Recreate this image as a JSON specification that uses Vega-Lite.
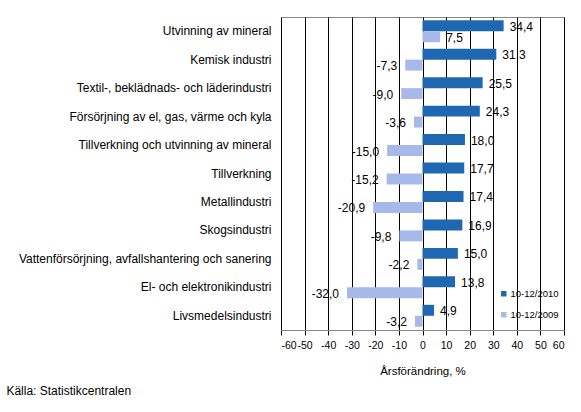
{
  "$schema": "https://vega.github.io/schema/vega-lite/v6.json",
  "width": 283,
  "height": 313,
  "autosize": {"type": "none"},
  "padding": {"left": 281, "top": 17, "right": 17, "bottom": 82},
  "background": "white",
  "config": {
    "font": "Liberation Sans",
    "locale": {"number": {"decimal": ",", "thousands": " ", "grouping": [3], "currency": ["", " €"], "minus": "-"}},
    "view": {"stroke": "#888888", "strokeWidth": 1}
  },
  "title": {
    "text": "Källa: Statistikcentralen",
    "orient": "bottom",
    "anchor": "start",
    "frame": "bounds",
    "fontSize": 12,
    "fontWeight": "normal",
    "color": "#000",
    "offset": 9,
    "dx": -12
  },
  "data": {
    "values": [
      {"cat": "Utvinning av mineral", "series": "10-12/2010", "value": 34.4},
      {"cat": "Utvinning av mineral", "series": "10-12/2009", "value": 7.5},
      {"cat": "Kemisk industri", "series": "10-12/2010", "value": 31.3},
      {"cat": "Kemisk industri", "series": "10-12/2009", "value": -7.3},
      {"cat": "Textil-, beklädnads- och läderindustri", "series": "10-12/2010", "value": 25.5},
      {"cat": "Textil-, beklädnads- och läderindustri", "series": "10-12/2009", "value": -9.0},
      {"cat": "Försörjning av el, gas, värme och kyla", "series": "10-12/2010", "value": 24.3},
      {"cat": "Försörjning av el, gas, värme och kyla", "series": "10-12/2009", "value": -3.6},
      {"cat": "Tillverkning och utvinning av mineral", "series": "10-12/2010", "value": 18.0},
      {"cat": "Tillverkning och utvinning av mineral", "series": "10-12/2009", "value": -15.0},
      {"cat": "Tillverkning", "series": "10-12/2010", "value": 17.7},
      {"cat": "Tillverkning", "series": "10-12/2009", "value": -15.2},
      {"cat": "Metallindustri", "series": "10-12/2010", "value": 17.4},
      {"cat": "Metallindustri", "series": "10-12/2009", "value": -20.9},
      {"cat": "Skogsindustri", "series": "10-12/2010", "value": 16.9},
      {"cat": "Skogsindustri", "series": "10-12/2009", "value": -9.8},
      {"cat": "Vattenförsörjning, avfallshantering och sanering", "series": "10-12/2010", "value": 15.0},
      {"cat": "Vattenförsörjning, avfallshantering och sanering", "series": "10-12/2009", "value": -2.2},
      {"cat": "El- och elektronikindustri", "series": "10-12/2010", "value": 13.8},
      {"cat": "El- och elektronikindustri", "series": "10-12/2009", "value": -32.0},
      {"cat": "Livsmedelsindustri", "series": "10-12/2010", "value": 4.9},
      {"cat": "Livsmedelsindustri", "series": "10-12/2009", "value": -3.2}
    ]
  },
  "encoding": {
    "y": {
      "field": "cat",
      "type": "nominal",
      "sort": null,
      "scale": {"paddingInner": 0.23, "paddingOuter": 0.115},
      "axis": {
        "title": null,
        "labelFont": "Liberation Sans",
        "labelFontSize": 12,
        "labelColor": "#000",
        "labelPadding": 10,
        "ticks": false,
        "domain": false,
        "labelLimit": 300
      }
    },
    "yOffset": {
      "field": "series",
      "type": "nominal",
      "sort": ["10-12/2010", "10-12/2009"],
      "scale": {"paddingInner": 0, "paddingOuter": 0}
    },
    "x": {
      "field": "value",
      "type": "quantitative",
      "scale": {"domain": [-60, 60], "nice": false},
      "axis": {
        "values": [-60, -50, -40, -30, -20, -10, 0, 10, 20, 30, 40, 50, 60],
        "title": "Årsförändring, %",
        "titleFont": "Liberation Sans",
        "titleFontSize": 11.5,
        "titleFontWeight": "normal",
        "titleColor": "#000",
        "titlePadding": 15,
        "labelFont": "Liberation Sans",
        "labelFontSize": 10.5,
        "labelOverlap": false,
        "labelColor": "#000",
        "labelPadding": 5,
        "tickColor": "#000",
        "tickSize": 5,
        "domainColor": "#888888",
        "grid": true,
        "gridColor": "#000",
        "gridOpacity": 1,
        "gridWidth": 1,
        "format": "d"
      }
    }
  },
  "layer": [
    {
      "mark": {"type": "bar"},
      "encoding": {
        "color": {
          "field": "series",
          "type": "nominal",
          "scale": {"domain": ["10-12/2010", "10-12/2009"], "range": ["#1f68b1", "#a6b9e9"]},
          "legend": {
            "title": null,
            "orient": "none",
            "legendX": 218,
            "legendY": 272,
            "symbolType": "square",
            "symbolSize": 30,
            "symbolStrokeWidth": 0,
            "labelFont": "Liberation Sans",
            "labelFontSize": 9.5,
            "labelColor": "#000",
            "rowPadding": 10,
            "labelOffset": 2
          }
        }
      }
    },
    {
      "transform": [{"filter": "datum.value >= 0"}],
      "mark": {"type": "text", "align": "left", "baseline": "middle", "dx": 6, "dy": 1, "fontSize": 12, "font": "Liberation Sans", "color": "#000"},
      "encoding": {"text": {"field": "value", "type": "quantitative", "format": ".1f"}}
    },
    {
      "transform": [{"filter": "datum.value < 0"}],
      "mark": {"type": "text", "align": "right", "baseline": "middle", "dx": -8, "dy": 1, "fontSize": 12, "font": "Liberation Sans", "color": "#000"},
      "encoding": {"text": {"field": "value", "type": "quantitative", "format": ".1f"}}
    }
  ]
}
